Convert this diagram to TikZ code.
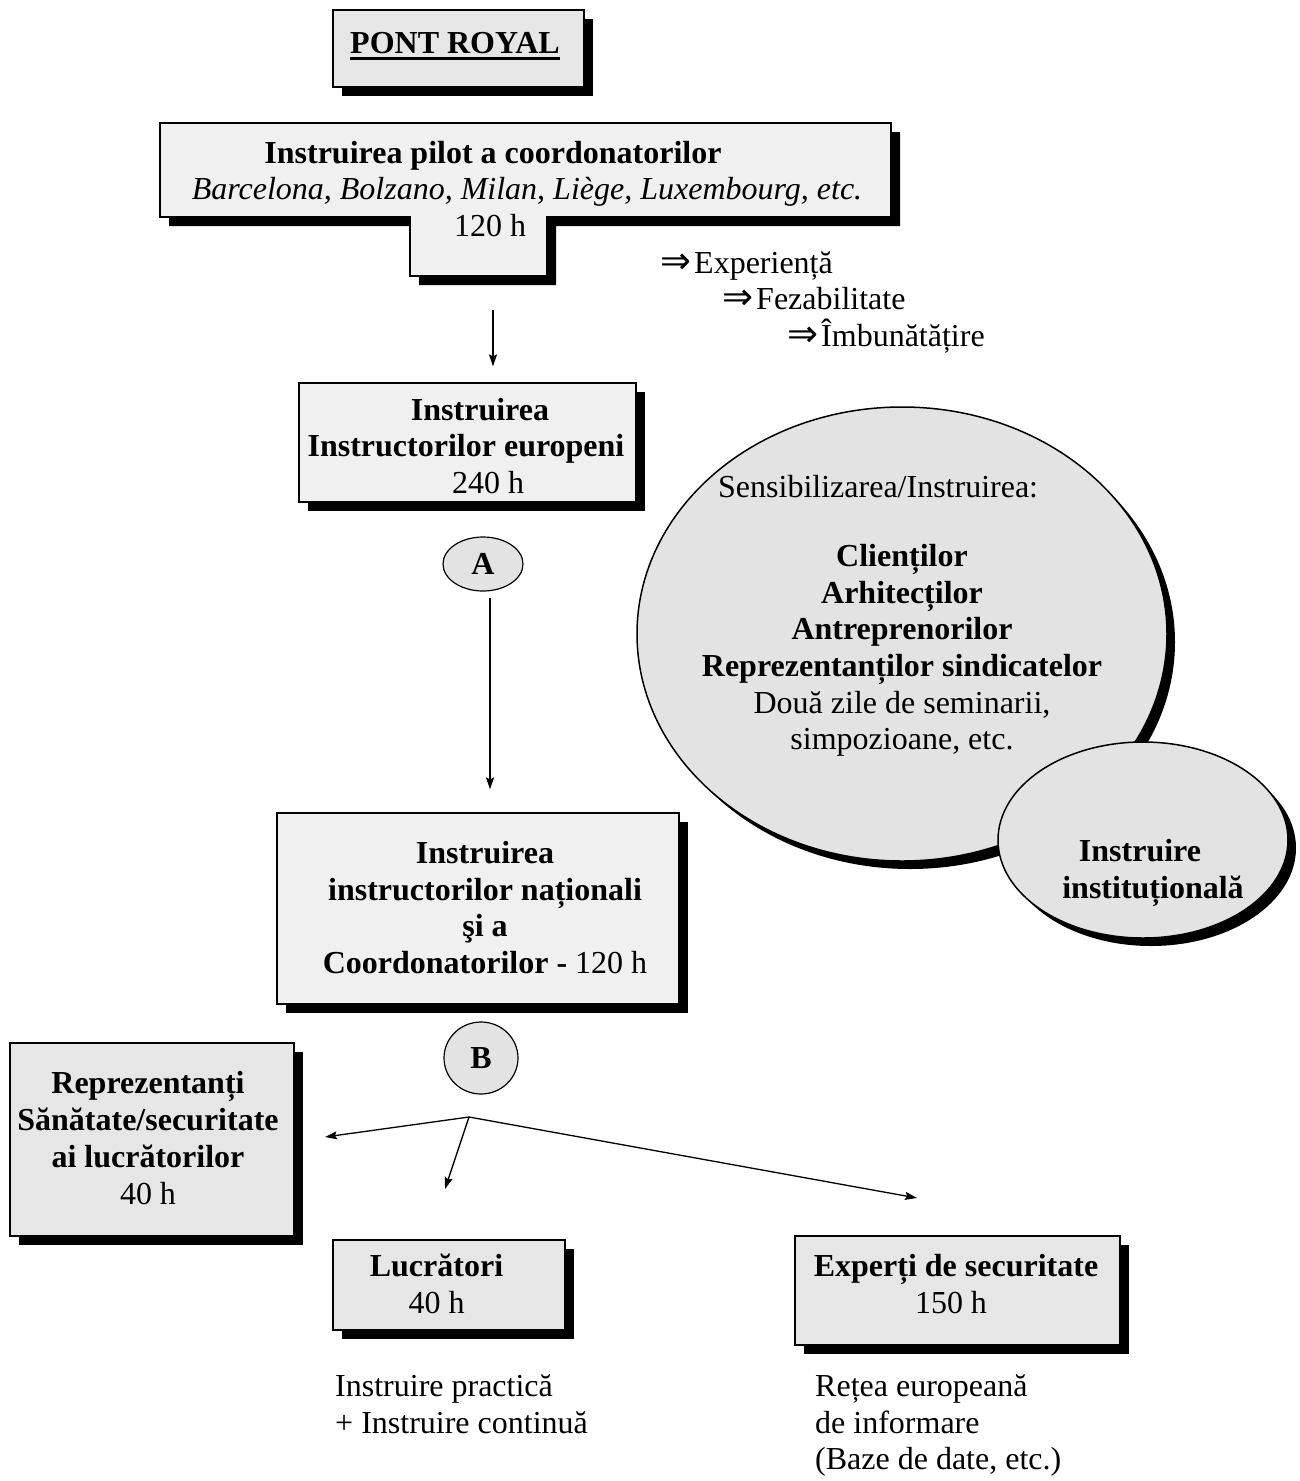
\documentclass[tikz,border=0pt]{standalone}
\usepackage{fontspec}
\setmainfont{Liberation Serif}
\newfontfamily\symfont{DejaVu Sans}
\usetikzlibrary{shapes.geometric,shadows,arrows.meta,calc}
\newcommand\bigsz{\fontsize{32}{36.7}\selectfont}
\newcommand\ulthick[1]{\setbox0\hbox{#1}\rlap{\rule[-6.5pt]{\wd0}{2.5pt}}\box0}
\newcommand\implarr{{\symfont\fontsize{37}{40}\selectfont ⇒}\hspace{3pt}}
\definecolor{gA}{HTML}{E6E6E6}
\definecolor{gB}{HTML}{F0F0F0}
\definecolor{gC}{HTML}{E3E3E3}
\begin{document}
\begin{tikzpicture}[x=1pt,y=-1pt,
  shbox/.style={draw=black, line width=1.2pt, inner sep=0,
    general shadow={fill=black, shadow xshift=9pt, shadow yshift=-9pt}},
  shell/.style={ellipse, draw=black, line width=1.5pt, inner sep=0, fill=gC,
    general shadow={fill=black, shadow xshift=8pt, shadow yshift=-8pt}},
  lett/.style={ellipse, draw=black, line width=1.2pt, inner sep=0, fill=gC, font=\bigsz\bfseries},
  txt/.style={inner sep=0, align=center, font=\bigsz},
  bftxt/.style={inner sep=0, align=center, font=\bigsz\bfseries},
  arr/.style={line width=1.3pt, -{Stealth[length=12pt,width=8pt,inset=2pt]}}]
\useasboundingbox (0,0) rectangle (1299,1481);
\fill[white] (0,0) rectangle (1299,1481);

% PONT ROYAL
\node[shbox, fill=gA, minimum width=251, minimum height=77] (pont) at (458.5,48.5) {};
\node[bftxt, anchor=base] (ponttxt) at (455,53) {\ulthick{PONT ROYAL}};

% T-shaped box
\fill[black, shift={(9,9)}] (160,123) -- (891,123) -- (891,217) -- (547,217) -- (547,276) -- (410,276) -- (410,217) -- (160,217) -- cycle;
\filldraw[fill=gB, draw=black, line width=1.2pt] (160,123) -- (891,123) -- (891,217) -- (547,217) -- (547,276) -- (410,276) -- (410,217) -- (160,217) -- cycle;
\node[bftxt, anchor=base] (pilot1) at (493,163) {Instruirea pilot a coordonatorilor};
\node[txt, anchor=base, font=\bigsz\itshape] (pilot2) at (527,199) {Barcelona, Bolzano, Milan, Liège, Luxembourg, etc.};
\node[txt, anchor=base] (pilot3) at (490,236) {120 h};
\coordinate (pilotbot) at (493,276);

% results
\node[txt, anchor=base west] (r1) at (660,273) {\implarr Experiență};
\node[txt, anchor=base west] (r2) at (722,309) {\implarr Fezabilitate};
\node[txt, anchor=base west] (r3) at (787,346) {\implarr Îmbunătățire};

% European instructors
\node[shbox, fill=gB, minimum width=337, minimum height=119] (eur) at (467.5,442.5) {};
\node[bftxt] (eurt) at (466,446) {\hspace*{28pt}Instruirea\\Instructorilor europeni\\\hspace*{44pt}{\mdseries 240 h}};
\draw[arr, shorten <=34pt, shorten >=16pt] (pilotbot) -- (pilotbot |- eur.north);

% A
\node[lett, minimum width=80, minimum height=54] (A) at (483,564) {A};
\coordinate (Aout) at (490,590);

% national instructors
\node[shbox, fill=gB, minimum width=402, minimum height=191] (nat) at (478,908.5) {};
\node[bftxt] (natt) at (485,907.5) {Instruirea\\instructorilor naționali\\şi a\\Coordonatorilor - {\mdseries 120 h}};
\draw[arr, shorten <=8pt, shorten >=23pt] (Aout) -- (Aout |- nat.north);

% big ellipse
\node[shell, minimum width=530, minimum height=454] (big) at (902,634) {};
\node[txt, anchor=base west] (sens) at (718,497) {Sensibilizarea/Instruirea:};
\node[bftxt] (bigt) at (902,650.5) {Clienților\\Arhitecților\\Antreprenorilor\\Reprezentanților sindicatelor\\{\mdseries Două zile de seminarii,}\\{\mdseries simpozioane, etc.}};

% small ellipse
\node[shell, minimum width=290, minimum height=196] (small) at (1143,840) {};
\node[bftxt] (smallt) at (1153,873) {Instruire\hspace*{26pt}\\instituțională};

% B
\node[lett, minimum width=74, minimum height=72] (B) at (481,1058) {B};
\coordinate (br) at (469,1117);
\coordinate (tipL) at (325,1137);
\coordinate (tipM) at (445,1189);
\coordinate (tipR) at (917,1198);
\draw[arr] (br) -- (tipL);
\draw[arr] (br) -- (tipM);
\draw[arr] (br) -- (tipR);

% representatives
\node[shbox, fill=gA, minimum width=284, minimum height=193] (rep) at (152,1139.5) {};
\node[bftxt] (rept) at (148,1138) {Reprezentanți\\Sănătate/securitate\\ai lucrătorilor\\{\mdseries 40 h}};

% workers
\node[shbox, fill=gA, minimum width=232, minimum height=90] (luc) at (449,1285) {};
\node[bftxt] (luct) at (436.5,1284) {Lucrători\\{\mdseries 40 h}};

% experts
\node[shbox, fill=gA, minimum width=325, minimum height=109] (exp) at (957.5,1290.5) {};
\node[bftxt] (expt) at (956,1284) {Experți de securitate\\{\mdseries 150 h}\hspace*{10pt}};

% notes
\node[txt, align=left, anchor=west] (note1) at (335,1404.5) {Instruire practică\\+ Instruire continuă};
\node[txt, align=left, anchor=west] (note2) at (815,1425.5) {Rețea europeană\\de informare\\(Baze de date, etc.)};
\end{tikzpicture}
\end{document}
